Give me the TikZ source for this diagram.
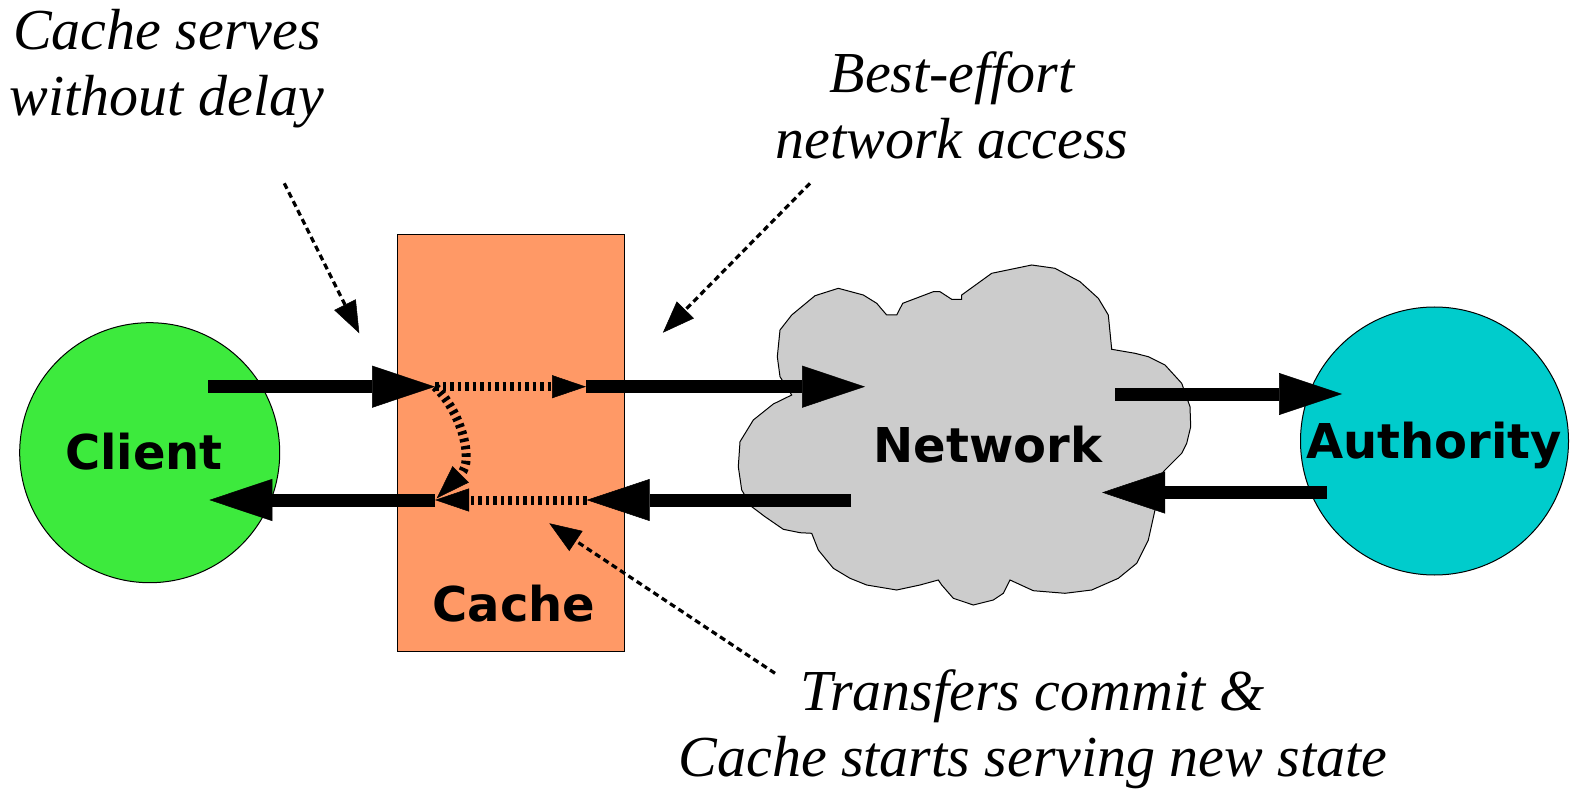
\documentclass[tikz,border=0pt]{standalone}
\usepackage{fontspec}
\setmainfont{Liberation Serif}
\newfontfamily\boxfont{DejaVu Sans}
\usetikzlibrary{arrows.meta}

\definecolor{clientgreen}{HTML}{3DEA3D}
\definecolor{authcyan}{HTML}{00CCCC}
\definecolor{cacheorange}{HTML}{FF9966}
\definecolor{cloudgrey}{HTML}{CCCCCC}

\begin{document}
\begin{tikzpicture}[x=1pt,y=-1pt,
  outlined/.style={draw=black, line width=1pt},
  title/.style={font=\boxfont\bfseries\fontsize{48}{58}\selectfont, anchor=base, inner sep=0pt},
  note/.style={font=\itshape\fontsize{58}{66}\selectfont, align=center, anchor=base, inner sep=0pt},
  flow/.style={line width=13pt, -{Triangle[length=63pt,width=42pt,line width=0.5pt]}},
  shortcut/.style={line width=9pt, dash pattern=on 3.5pt off 4pt, -{Triangle[length=34pt,width=23pt,line width=0.5pt]}},
  pointer/.style={line width=3.2pt, dash pattern=on 6pt off 4pt, -{Triangle[length=32pt,width=24pt,line width=0.5pt]}},
]
\useasboundingbox (0,0) rectangle (1571,791);

% shapes
\node[outlined, fill=clientgreen, circle, minimum size=260pt, inner sep=0pt] (client) at (149.7,452.7) {};
\node[outlined, fill=authcyan, circle, minimum size=268pt, inner sep=0pt] (authority) at (1434.5,441) {};
\node[outlined, fill=cacheorange, rectangle, minimum width=227pt, minimum height=416pt, inner sep=0pt] (cache) at (510.8,443) {};

% network cloud outline
\draw[outlined, fill=cloudgrey] plot coordinates {
  (780,330) (791.7,315) (815,295.7) (838.3,288.3) (863.3,295) (876.7,303.3)
  (886.7,315) (896.7,315) (902.7,303.3) (933.3,291.7) (940,291.7) (951.7,299.3)
  (961.7,299.3) (961.7,295) (991.7,273.3) (1031.7,265) (1055,268.3) (1080,281.7)
  (1098.3,298.3) (1108.3,315) (1111.7,349.3) (1135,353.3) (1148.3,356.7) (1165,365)
  (1181.7,383.3) (1190,406.7) (1190.7,426.7) (1186.7,443.3) (1181.7,453.3) (1163.3,471.7)
  (1155,510) (1148.3,540) (1136.7,563.3) (1118.3,578.3) (1091.7,590) (1065,593.3)
  (1033.3,590.7) (1010,580) (1003.3,593.3) (993.3,600) (973.3,605) (953.3,598.3)
  (941.7,585) (938.3,580) (920,585) (896.7,590) (866.7,585) (850,578.3)
  (833.3,568.3) (818.3,550) (811.7,533.3) (800,532.7) (783.3,529.3) (765,516.7)
  (751.7,506.7) (741.7,490) (738.3,466.7) (740,441.7) (753.3,420) (773.3,404)
  (791.7,395) (780,376.7) (777.3,356.7)
} -- cycle;

% labels inside the shapes
\node[title] (clientlabel) at (144,469.3) {Client};
\node[title] (cachelabel) at (514,621.7) {Cache};
\node[title] (network) at (988,462.3) {Network};
\node[title] (authlabel) at (1434,458.3) {Authority};

% connector end points
\coordinate (reqA) at (208,386.7);
\coordinate (reqB) at (435,386.7);
\coordinate (reqC) at (586,386.7);
\coordinate (reqD) at (865,386.7);
\coordinate (fwdA) at (1115,394);
\coordinate (fwdB) at (1342,394);
\coordinate (ansA) at (1327,492.5);
\coordinate (ansB) at (1102,492.5);
\coordinate (respA) at (851,500);
\coordinate (respB) at (586.7,500);
\coordinate (respC) at (435,500);
\coordinate (respD) at (209.3,500);

% request path
\draw[flow] (reqA) -- (reqB);
\draw[shortcut] (reqB) -- (reqC);
\draw[flow] (reqC) -- (reqD);
\draw[flow] (fwdA) -- (fwdB);

% response path
\draw[flow] (ansA) -- (ansB);
\draw[flow] (respA) -- (respB);
\draw[shortcut] (respB) -- (respC);
\draw[flow] (respC) -- (respD);

% cache answers directly
\draw[shortcut] (reqB) .. controls (460,410) and (475,460) .. (436.7,498.3);

% annotations (anchored at the baseline of their last line)
\node[note] (servenote) at (167,116) {Cache serves\\without delay};
\node[note] (bestnote) at (952,159) {Best-effort\\network access};
\node[note] (commitnote) at (1033,776) {Transfers commit \&\\Cache starts serving new state};

\coordinate (serveA) at (284.3,183.3);
\coordinate (serveB) at (359.3,333.3);
\coordinate (bestA) at (810,183.3);
\coordinate (bestB) at (662.9,332.7);
\coordinate (commitA) at (775,673.3);
\coordinate (commitB) at (549.3,523.3);
\draw[pointer] (serveA) -- (serveB);
\draw[pointer] (bestA) -- (bestB);
\draw[pointer] (commitA) -- (commitB);
\end{tikzpicture}
\end{document}
